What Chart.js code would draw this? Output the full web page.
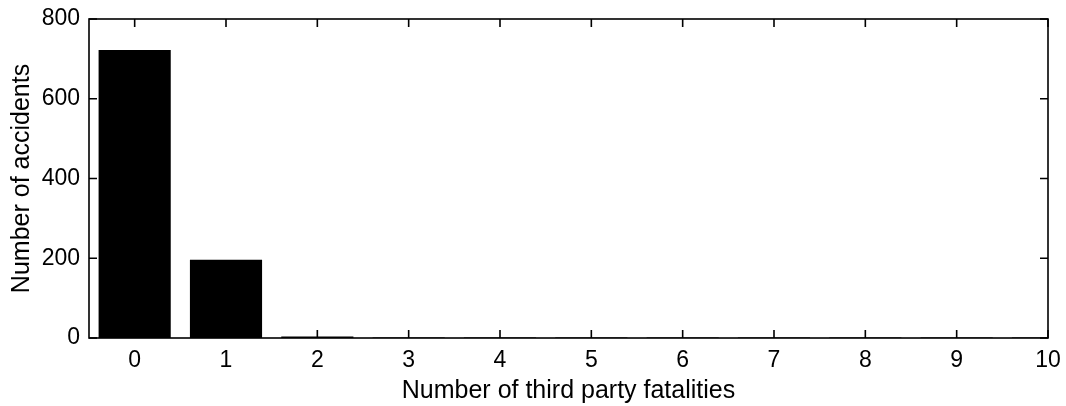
<!DOCTYPE html>
<html lang="en">
<head>
  <meta charset="UTF-8">
  <title>Third party fatalities</title>
  <script src="https://cdn.jsdelivr.net/npm/chart.js"></script>
  <style>
    html, body { margin: 0; padding: 0; background: #fff; }
    .chart-container { position: relative; width: 1066px; height: 406px; }
  </style>
</head>
<body>
  <div class="chart-container">
    <canvas id="fatalityChart"></canvas>
  </div>

  <script>
    // data
    const fatalities = [0, 1, 2, 3, 4, 5, 6, 7, 8, 9, 10];
    const accidents = [722, 196, 4, 1, 1, 1, 1, 1, 1, 1, 1];
    const xTicks = [0, 1, 2, 3, 4, 5, 6, 7, 8, 9, 10];
    const yTicks = [0, 200, 400, 600, 800];

    const tickFont = { family: '"Liberation Sans", Arial, sans-serif', size: 23 };
    const titleFont = { family: '"Liberation Sans", Arial, sans-serif', size: 25 };

    // box round the plot with inward tick marks on all four sides
    const frame = {
      id: 'frame',
      afterDatasetsDraw(chart) {
        const { ctx, chartArea: a, scales } = chart;
        ctx.save();
        ctx.strokeStyle = '#000';
        ctx.lineWidth = 1.6;
        ctx.strokeRect(a.left, a.top, a.right - a.left, a.bottom - a.top);
        ctx.beginPath();
        xTicks.forEach(v => {
          const x = scales.x.getPixelForValue(v);
          ctx.moveTo(x, a.bottom); ctx.lineTo(x, a.bottom - 8);
          ctx.moveTo(x, a.top); ctx.lineTo(x, a.top + 8);
        });
        yTicks.forEach(v => {
          const y = scales.y.getPixelForValue(v);
          ctx.moveTo(a.left, y); ctx.lineTo(a.left + 8, y);
          ctx.moveTo(a.right, y); ctx.lineTo(a.right - 8, y);
        });
        ctx.stroke();
        ctx.restore();
      }
    };

    new Chart(document.getElementById('fatalityChart'), {
      type: 'bar',
      data: {
        datasets: [{
          data: fatalities.map((f, i) => ({ x: f, y: accidents[i] })),
          backgroundColor: '#000',
          borderWidth: 0,
          barPercentage: 0.79,
          categoryPercentage: 1
        }]
      },
      options: {
        responsive: true,
        maintainAspectRatio: false,
        animation: false,
        layout: { padding: { top: 19, right: 18, left: 0, bottom: 0 } },
        plugins: { legend: { display: false }, tooltip: { enabled: false } },
        scales: {
          x: {
            type: 'linear',
            offset: false,
            min: -0.5,
            max: 10,
            afterBuildTicks: s => { s.ticks = xTicks.map(v => ({ value: v })); },
            afterFit: s => { s.height = 68; },
            grid: { display: false },
            border: { display: false },
            ticks: { color: '#000', font: tickFont, padding: 1, maxRotation: 0 },
            title: {
              display: true,
              text: 'Number of third party fatalities',
              color: '#000',
              font: titleFont,
              padding: { top: 0, bottom: 0 }
            }
          },
          y: {
            min: 0,
            max: 800,
            afterBuildTicks: s => { s.ticks = yTicks.map(v => ({ value: v })); },
            afterFit: s => { s.width = 89; },
            grid: { display: false },
            border: { display: false },
            ticks: { color: '#000', font: tickFont, padding: 1 },
            title: {
              display: true,
              text: 'Number of accidents',
              color: '#000',
              font: titleFont,
              padding: { top: 7, bottom: 0 }
            }
          }
        }
      },
      plugins: [frame]
    });
  </script>
</body>
</html>
